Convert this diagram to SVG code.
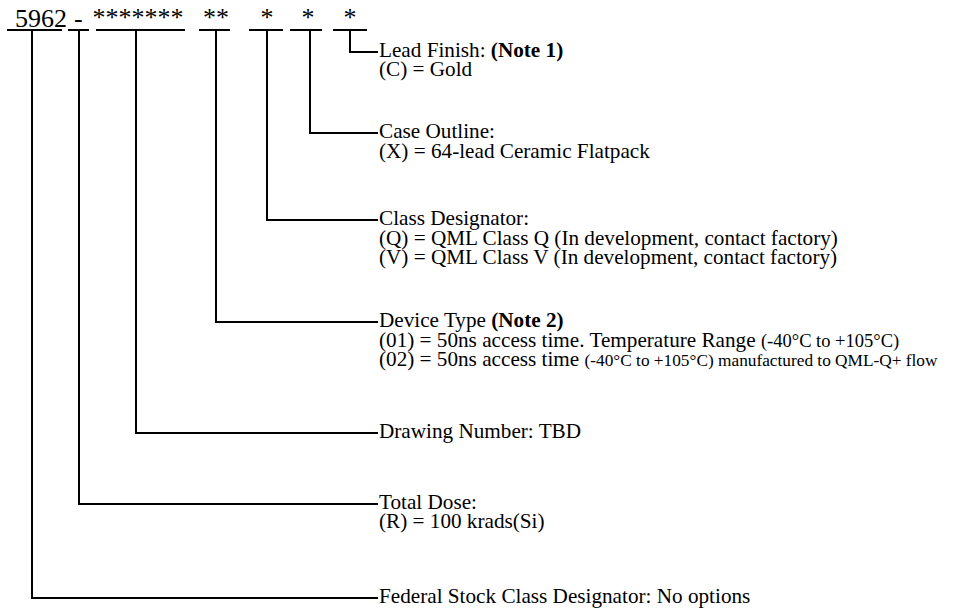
<svg xmlns="http://www.w3.org/2000/svg" width="970" height="612" viewBox="0 0 970 612">
<style>
text{font-family:"Liberation Serif","Times New Roman",serif;fill:#000}
.t{font-size:21.2px}
.top{font-size:26px}
.s1{font-size:18.5px}
.s2{font-size:17.3px}
.b{font-weight:bold}
.ln{stroke:#000;stroke-width:2;fill:none}
</style>
<rect width="970" height="612" fill="#fff"/>
<g id="part-number">
<text class="top" x="15" y="27">5962</text>
<text class="top" x="74" y="27">-</text>
<text class="top" x="138" y="26" text-anchor="middle">*******</text>
<text class="top" x="216" y="26" text-anchor="middle">**</text>
<text class="top" x="267" y="26" text-anchor="middle">*</text>
<text class="top" x="308" y="26" text-anchor="middle">*</text>
<text class="top" x="350" y="26" text-anchor="middle">*</text>
</g>
<g id="connectors" class="ln">
<path d="M7 30H62M68 30H89M96 30H185M199 30H230M249 30H283M290 30H322M333 30H367"/>
<path d="M350 30V52H378"/>
<path d="M310 30V133H378"/>
<path d="M267 30V220H378"/>
<path d="M216 30V322H378"/>
<path d="M136 30V433H378"/>
<path d="M79 30V504H378"/>
<path d="M32 30V598H378"/>
</g>
<g id="lead-finish">
<text class="t" x="379" y="57">Lead Finish: <tspan class="b">(Note 1)</tspan></text>
<text class="t" x="379" y="76">(C) = Gold</text>
</g>
<g id="case-outline">
<text class="t" x="379" y="138">Case Outline:</text>
<text class="t" x="379" y="158">(X) = 64-lead Ceramic Flatpack</text>
</g>
<g id="class-designator">
<text class="t" x="379" y="225">Class Designator:</text>
<text class="t" x="379" y="244.5">(Q) = QML Class Q (In development, contact factory)</text>
<text class="t" x="379" y="264">(V) = QML Class V (In development, contact factory)</text>
</g>
<g id="device-type">
<text class="t" x="379" y="327">Device Type <tspan class="b">(Note 2)</tspan></text>
<text class="t" x="379" y="347">(01) = 50ns access time. Temperature Range <tspan class="s1">(-40°C to +105°C)</tspan></text>
<text class="t" x="379" y="366">(02) = 50ns access time <tspan class="s2">(-40°C to +105°C) manufactured to QML-Q+ flow</tspan></text>
</g>
<g id="drawing-number">
<text class="t" x="379" y="438">Drawing Number: TBD</text>
</g>
<g id="total-dose">
<text class="t" x="379" y="509">Total Dose:</text>
<text class="t" x="379" y="528">(R) = 100 krads(Si)</text>
</g>
<g id="federal-stock">
<text class="t" x="379" y="603">Federal Stock Class Designator: No options</text>
</g>
</svg>
